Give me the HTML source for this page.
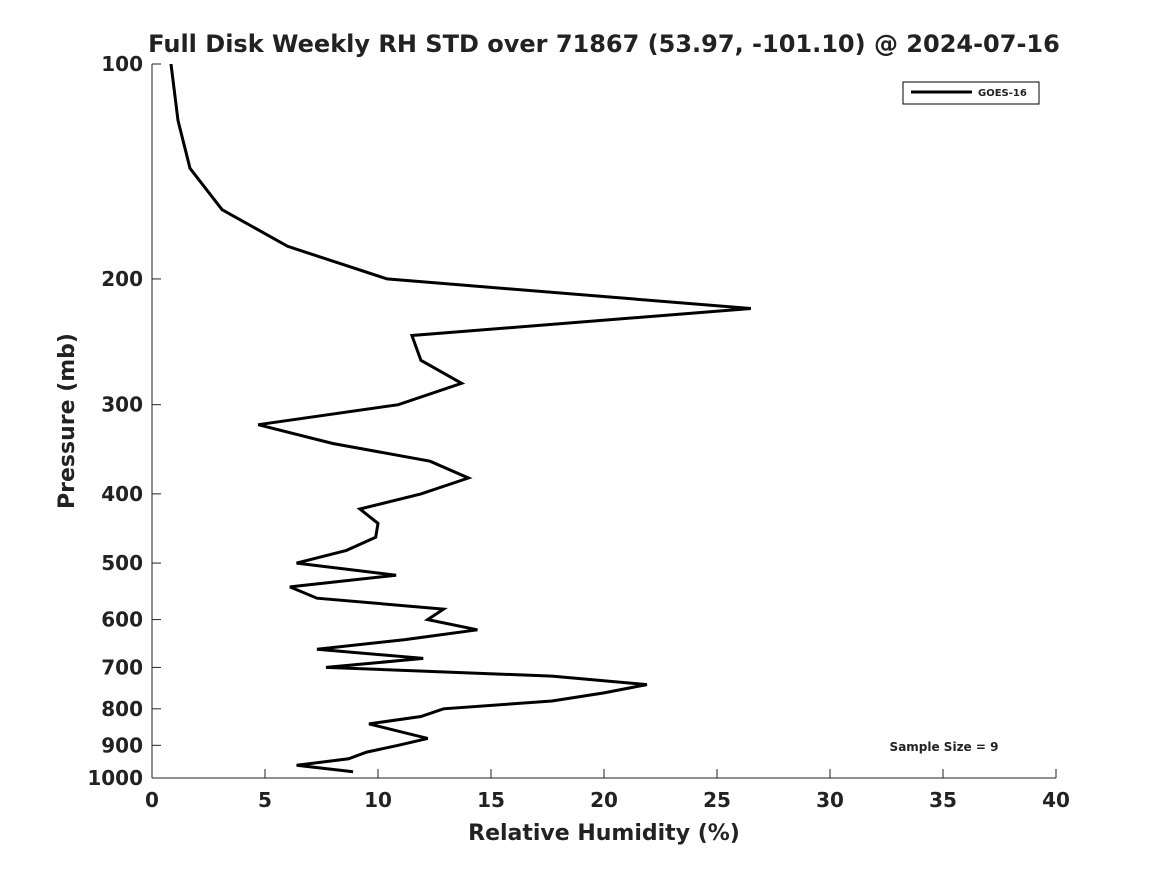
<!DOCTYPE html>
<html><head><meta charset="utf-8"><style>
body{margin:0;background:#fff;}
svg text{font-family:"DejaVu Sans","Liberation Sans",sans-serif;font-weight:bold;fill:#222;}
</style></head><body>
<svg id="chart" width="1167" height="875" xmlns="http://www.w3.org/2000/svg">
<rect width="1167" height="875" fill="#fff"/>
<text x="604" y="52" text-anchor="middle" font-size="24" fill="#000">Full Disk Weekly RH STD over 71867 (53.97, -101.10) @ 2024-07-16</text>
<g id="axes"></g>
<text x="604" y="840" text-anchor="middle" font-size="22">Relative Humidity (%)</text>
<text transform="translate(74,421) rotate(-90)" text-anchor="middle" font-size="22">Pressure (mb)</text>
<g>
<rect x="903" y="82" width="136" height="22" fill="#fff" stroke="#000" stroke-width="1"/>
<line x1="911" y1="92" x2="972" y2="92" stroke="#000" stroke-width="3"/>
<text x="978" y="96" font-size="10" fill="#000">GOES-16</text>
</g>
<text x="944" y="751" text-anchor="middle" font-size="12" fill="#000">Sample Size = 9</text>
</svg>
<script>
const pressures=[100,120,140,160,180,200,220,240,260,280,300,320,340,360,380,400,420,440,460,480,500,520,540,560,580,600,620,640,660,680,700,720,740,760,780,800,820,840,880,900,920,940,960,980];
const rhStd=[0.84,1.15,1.68,3.1,6.0,10.4,26.5,11.5,11.9,13.7,10.9,4.7,8.0,12.3,14.0,11.9,9.2,10.0,9.9,8.6,6.4,10.8,6.1,7.3,12.9,12.2,14.4,11.2,7.3,12.0,7.7,17.7,21.9,20.0,17.7,12.9,11.9,9.6,12.2,10.9,9.5,8.7,6.4,8.9];
const xTicks=[0,5,10,15,20,25,30,35,40];
const yTicks=[100,200,300,400,500,600,700,800,900,1000];
const L=152,R=1056,T=64,B=778;
const xs=v=>L+(v-0)/(40-0)*(R-L);
const ys=p=>T+(Math.log10(p)-2)*(B-T);
const NS="http://www.w3.org/2000/svg";
const svg=document.getElementById('chart');
const ax=document.getElementById('axes');
function mk(tag,attrs,parent){const e=document.createElementNS(NS,tag);for(const k in attrs)e.setAttribute(k,attrs[k]);(parent||ax).appendChild(e);return e;}
let e=mk('line',{x1:L,y1:B,x2:R,y2:B,stroke:'#222','stroke-width':1});


e=mk('line',{x1:L,y1:T,x2:L,y2:B,stroke:'#222','stroke-width':1});


xTicks.forEach(v=>{
  const x=xs(v);
  mk('line',{x1:x,y1:B,x2:x,y2:B-9,stroke:'#222'});
  const t=mk('text',{x:x,y:B+29,'text-anchor':'middle','font-size':20});
  t.textContent=v;
  
  
});
yTicks.forEach(p=>{
  const y=ys(p);
  mk('line',{x1:L,y1:y,x2:L+9,y2:y,stroke:'#222'});
  const t=mk('text',{x:L-9,y:y+7,'text-anchor':'end','font-size':20});
  t.textContent=p;
  
  
});
const pts=pressures.map((p,i)=>xs(rhStd[i]).toFixed(1)+','+ys(p).toFixed(1)).join(' ');
const line=mk('polyline',{points:pts,fill:'none',stroke:'#000','stroke-width':3,'stroke-linejoin':'miter'},svg);


</script>
</body></html>
